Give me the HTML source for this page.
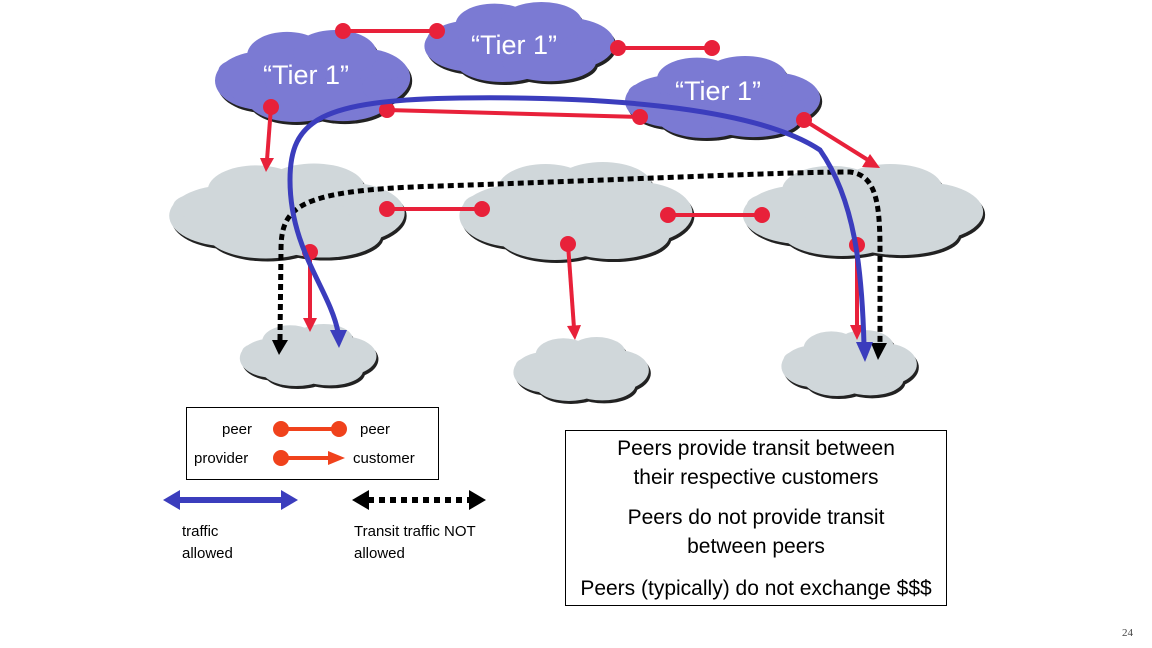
<!DOCTYPE html>
<html><head><meta charset="utf-8"><style>
body{margin:0;background:#fff;width:1152px;height:648px;overflow:hidden;font-family:"Liberation Sans",sans-serif}
svg{position:absolute;left:0;top:0}
</style></head><body>
<svg width="1152" height="648" viewBox="0 0 1152 648">
<defs>
<g id="c">
<ellipse cx="0" cy="0" rx="0.42" ry="0.42"/>
<ellipse cx="-0.3" cy="0.05" rx="0.3" ry="0.32"/>
<ellipse cx="0.32" cy="0.02" rx="0.3" ry="0.32"/>
<ellipse cx="-0.15" cy="-0.22" rx="0.25" ry="0.26"/>
<ellipse cx="0.15" cy="-0.25" rx="0.26" ry="0.25"/>
<ellipse cx="-0.1" cy="0.25" rx="0.3" ry="0.25"/>
<ellipse cx="0.2" cy="0.25" rx="0.3" ry="0.24"/>
<ellipse cx="-0.4" cy="0.12" rx="0.12" ry="0.16"/>
<ellipse cx="0.42" cy="0.12" rx="0.1" ry="0.14"/>
<ellipse cx="-0.48" cy="-0.05" rx="0.1" ry="0.12"/>
<ellipse cx="0.48" cy="-0.08" rx="0.1" ry="0.12"/>
</g>
</defs>
<g fill="#222">
<use href="#c" transform="translate(313,79) scale(160,92)"/>
<use href="#c" transform="translate(520,45) scale(156,80)"/>
<use href="#c" transform="translate(723,100) scale(160,82)"/>
<use href="#c" transform="translate(287,214) scale(193,95)"/>
<use href="#c" transform="translate(576,214) scale(191,98)"/>
<use href="#c" transform="translate(863,213) scale(197,92)"/>
<use href="#c" transform="translate(309,358) scale(112,62)"/>
<use href="#c" transform="translate(582,372) scale(111,64)"/>
<use href="#c" transform="translate(850,366) scale(111,66)"/>
</g>
<g fill="#7b7ad3">
<use href="#c" transform="translate(311,76) scale(160,92)"/>
<use href="#c" transform="translate(518,42) scale(156,80)"/>
<use href="#c" transform="translate(721,97) scale(160,82)"/>
</g>
<g fill="#d0d7da">
<use href="#c" transform="translate(285,211) scale(193,95)"/>
<use href="#c" transform="translate(574,211) scale(191,98)"/>
<use href="#c" transform="translate(861,210) scale(197,92)"/>
<use href="#c" transform="translate(307,355) scale(112,62)"/>
<use href="#c" transform="translate(580,369) scale(111,64)"/>
<use href="#c" transform="translate(848,363) scale(111,66)"/>
</g>
<g fill="#fff" font-size="27">
<text x="263" y="84">“Tier 1”</text>
<text x="471" y="54">“Tier 1”</text>
<text x="675" y="100">“Tier 1”</text>
</g>
<g stroke="#e8213a" stroke-width="4" fill="#e8213a">
<line x1="343" y1="31" x2="437" y2="31"/><circle cx="343" cy="31" r="6"/><circle cx="437" cy="31" r="6"/>
<line x1="618" y1="48" x2="712" y2="48"/><circle cx="618" cy="48" r="6"/><circle cx="712" cy="48" r="6"/>
<line x1="387" y1="110" x2="640" y2="117"/><circle cx="387" cy="110" r="6"/><circle cx="640" cy="117" r="6"/>
<line x1="387" y1="209" x2="482" y2="209"/><circle cx="387" cy="209" r="6"/><circle cx="482" cy="209" r="6"/>
<line x1="668" y1="215" x2="762" y2="215"/><circle cx="668" cy="215" r="6"/><circle cx="762" cy="215" r="6"/>
<line x1="271" y1="107" x2="267" y2="160"/><circle cx="271" cy="107" r="6"/>
<line x1="804" y1="120" x2="868" y2="160"/><circle cx="804" cy="120" r="6"/>
<line x1="310" y1="252" x2="310" y2="320"/><circle cx="310" cy="252" r="6"/>
<line x1="568" y1="244" x2="574" y2="328"/><circle cx="568" cy="244" r="6"/>
<line x1="857" y1="245" x2="857" y2="328"/><circle cx="857" cy="245" r="6"/>
</g>
<g fill="#e8213a">
<polygon points="260,158 274,158 266,172"/>
<polygon points="862,167 870,154 880,168"/>
<polygon points="303,318 317,318 310,332"/>
<polygon points="567,326 581,325 575,340"/>
<polygon points="850,325 864,325 857,340"/>
</g>
<path d="M280,340 L281,250 C281,205 300,190 440,186 C620,180 780,172 850,172 C875,175 880,200 880,250 L880,345" fill="none" stroke="#000" stroke-width="5" stroke-dasharray="6,4"/>
<polygon points="272,340 288,340 279,355" fill="#000"/>
<polygon points="871,343 887,343 878,360" fill="#000"/>
<path d="M338,332 C330,290 290,250 290,180 C290,120 320,100 460,98 C620,96 760,110 820,150 C855,200 862,270 864,345" fill="none" stroke="#3b3dbd" stroke-width="5"/>
<polygon points="330,330 347,330 339,348" fill="#3b3dbd"/>
<polygon points="856,342 873,342 865,362" fill="#3b3dbd"/>
<rect x="186.5" y="407.5" width="252" height="72" fill="#fff" stroke="#000"/>
<g font-size="15" fill="#000">
<text x="222" y="434">peer</text><text x="360" y="434">peer</text>
<text x="194" y="463">provider</text><text x="353" y="463">customer</text>
<text x="182" y="536">traffic</text><text x="182" y="558">allowed</text>
<text x="354" y="536">Transit traffic NOT</text><text x="354" y="558">allowed</text>
</g>
<g stroke="#f0421c" stroke-width="4" fill="#f0421c">
<line x1="281" y1="429" x2="339" y2="429"/><circle cx="281" cy="429" r="6"/><circle cx="339" cy="429" r="6"/>
<line x1="281" y1="458" x2="330" y2="458"/><circle cx="281" cy="458" r="6"/>
</g>
<polygon points="328,451 345,458 328,465" fill="#f0421c"/>
<line x1="175" y1="500" x2="285" y2="500" stroke="#3b3dbd" stroke-width="6"/>
<polygon points="163,500 180,490 180,510" fill="#3b3dbd"/>
<polygon points="298,500 281,490 281,510" fill="#3b3dbd"/>
<line x1="368" y1="500" x2="472" y2="500" stroke="#000" stroke-width="6" stroke-dasharray="6,5"/>
<polygon points="352,500 369,490 369,510" fill="#000"/>
<polygon points="486,500 469,490 469,510" fill="#000"/>
<rect x="565.5" y="430.5" width="381" height="175" fill="#fff" stroke="#000"/>
<g font-size="21" fill="#000" text-anchor="middle">
<text x="756" y="455">Peers provide transit between</text>
<text x="756" y="484">their respective customers</text>
<text x="756" y="524">Peers do not provide transit</text>
<text x="756" y="553">between peers</text>
<text x="756" y="595">Peers (typically) do not exchange $$$</text>
</g>
<text x="1122" y="636" font-size="11" font-family="Liberation Serif,serif" fill="#444">24</text>
</svg>
</body></html>
